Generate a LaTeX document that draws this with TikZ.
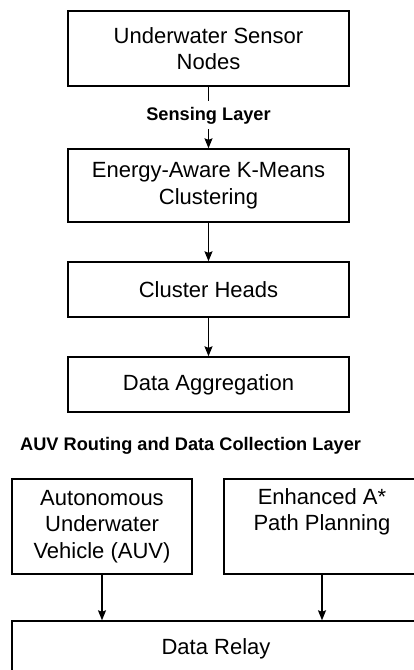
\documentclass[tikz,border=0pt]{standalone}
\usepackage{fontspec}
\setmainfont{Liberation Sans}
\usetikzlibrary{arrows.meta}
\begin{document}
\begin{tikzpicture}[x=1pt,y=-1pt,
  box/.style={draw=black,line width=1.4pt,rectangle,inner sep=0pt,align=center,
    font=\fontsize{22}{26.5}\selectfont},
  lbl/.style={font=\fontsize{18.2}{22}\selectfont\bfseries,inner sep=0pt},
  arr/.style={line width=1.4pt,-{Stealth[length=10pt,width=8pt,inset=1.5pt]}},
  ln/.style={line width=1.4pt}]
\useasboundingbox (0,0) rectangle (414,670);
\clip (0,0) rectangle (414,670);
\node[box,minimum width=281pt,minimum height=75pt] (n1) at (208.5,48.5) {Underwater Sensor\\Nodes};
\node[lbl] (sl) at (208.5,116) {Sensing Layer};
\node[box,minimum width=281pt,minimum height=73pt] (n2) at (208.5,185.5) {Energy-Aware K-Means\\Clustering};
\node[box,minimum width=281pt,minimum height=55pt] (n3) at (208.5,289.5) {Cluster Heads};
\node[box,minimum width=281pt,minimum height=55pt] (n4) at (208.5,384.5) {Data Aggregation};
\node[lbl,anchor=west] (al) at (20,446) {AUV Routing and Data Collection Layer};
\node[box,minimum width=180pt,minimum height=95pt] (n5) at (102,526.5) {Autonomous\\Underwater\\Vehicle (AUV)};
\node[box,minimum width=196pt,minimum height=95pt] (n6) at (322,526.5) {Enhanced A*\\Path Planning\\\strut};
\node[box,minimum width=408pt,minimum height=55pt] (n7) at (216,648.5) {Data Relay};
\coordinate (c1) at (208.5,101);
\coordinate (c2) at (208.5,129);
\draw[ln] (n1.south) -- (c1);
\draw[arr] (c2) -- (n2.north);
\draw[arr] (n2.south) -- (n3.north);
\draw[arr] (n3.south) -- (n4.north);
\draw[arr] (n5.south) -- (n5.south |- n7.north);
\draw[arr] (n6.south) -- (n6.south |- n7.north);
\end{tikzpicture}
\end{document}
